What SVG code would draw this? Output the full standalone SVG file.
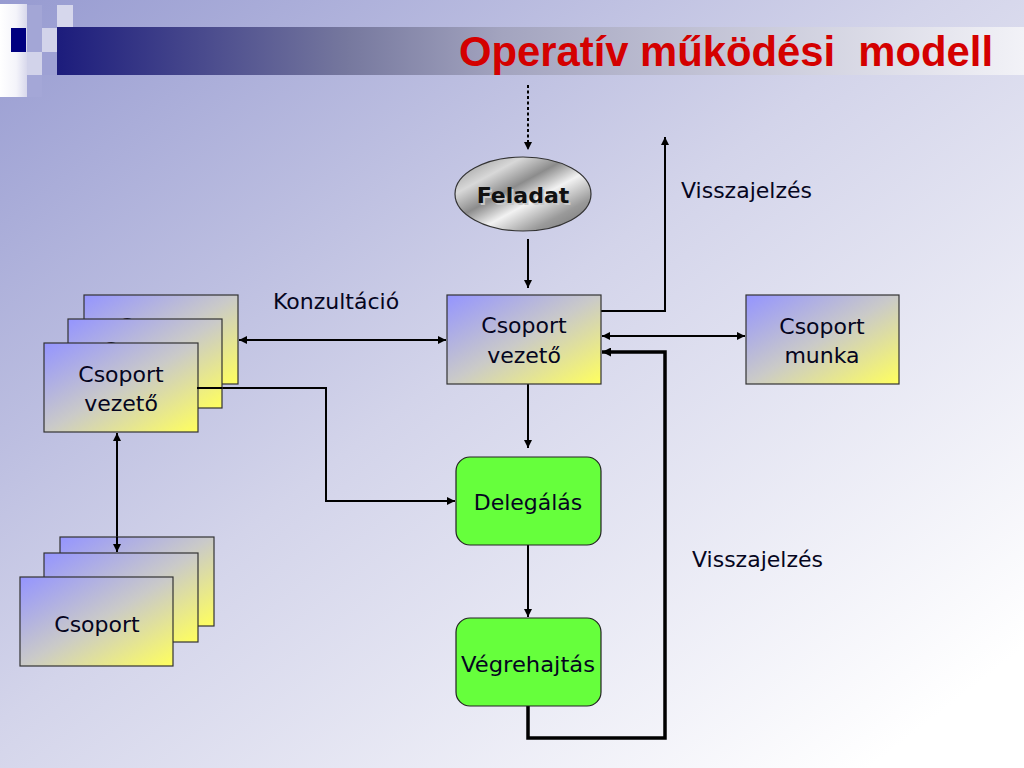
<svg xmlns="http://www.w3.org/2000/svg" width="1024" height="768" viewBox="0 0 1024 768">
<defs>
<linearGradient id="bg" gradientUnits="userSpaceOnUse" x1="0" y1="0" x2="700" y2="900">
<stop offset="0" stop-color="#979bd1"/>
<stop offset="0.5" stop-color="#d3d4ea"/>
<stop offset="1" stop-color="#ffffff"/>
</linearGradient>
<linearGradient id="bar" x1="0" y1="0" x2="1" y2="0">
<stop offset="0" stop-color="#1c1c7c"/>
<stop offset="0.30" stop-color="#76789e"/>
<stop offset="0.46" stop-color="#a3a4bf"/>
<stop offset="1" stop-color="#f2f2f7"/>
</linearGradient>
<linearGradient id="wbar" x1="0" y1="0" x2="1" y2="0">
<stop offset="0" stop-color="#ffffff"/>
<stop offset="0.6" stop-color="#f4f4fa"/>
<stop offset="1" stop-color="#d8d8ec"/>
</linearGradient>
<linearGradient id="box" x1="0" y1="0" x2="1" y2="1">
<stop offset="0" stop-color="#9494ff"/>
<stop offset="0.5" stop-color="#cacac8"/>
<stop offset="1" stop-color="#ffff5e"/>
</linearGradient>
<linearGradient id="silver" x1="0" y1="0" x2="1" y2="1">
<stop offset="0" stop-color="#8a8a8a"/>
<stop offset="0.25" stop-color="#d8d8d8"/>
<stop offset="0.42" stop-color="#8c8c8c"/>
<stop offset="0.58" stop-color="#f2f2f2"/>
<stop offset="0.78" stop-color="#9a9a9a"/>
<stop offset="1" stop-color="#6e6e6e"/>
</linearGradient>
<marker id="ah" viewBox="0 0 10 10" refX="10" refY="5" markerWidth="10" markerHeight="8" markerUnits="userSpaceOnUse" orient="auto-start-reverse">
<path d="M0,0 L10,5 L0,10 Z" fill="#000"/>
</marker>
<marker id="ahb" viewBox="0 0 10 10" refX="10" refY="5" markerWidth="11" markerHeight="9" markerUnits="userSpaceOnUse" orient="auto-start-reverse">
<path d="M0,0 L10,5 L0,10 Z" fill="#000"/>
</marker>
<style>
.bx{fill:url(#box);stroke:#333;stroke-width:1.2}
.gr{fill:#66ff3c;stroke:#222;stroke-width:1.2}
.t{font-family:"DejaVu Sans","Liberation Sans",sans-serif;font-size:22px;fill:#050520;text-anchor:middle}
.lbl{font-family:"DejaVu Sans","Liberation Sans",sans-serif;font-size:22px;fill:#050520}
.c{fill:none;stroke:#000;stroke-width:2}
.ck{fill:none;stroke:#000;stroke-width:3.5}
</style>
</defs>

<rect x="0" y="0" width="1024" height="768" fill="url(#bg)"/>
<g id="decor">
<rect x="57" y="27" width="967" height="48" fill="url(#bar)"/>
<rect x="0" y="4" width="27" height="93" fill="url(#wbar)"/>
<rect x="27" y="5" width="15" height="47" fill="#a3a6d6"/>
<rect x="11" y="28" width="15" height="24" fill="#000080"/>
<rect x="42" y="28" width="15" height="24" fill="#d2d3ea"/>
<rect x="57" y="5" width="16" height="22" fill="#d6d7ec"/>
<rect x="27" y="52" width="15" height="23" fill="#d2d3ea"/>
<rect x="42" y="52" width="15" height="23" fill="#9ea1d4"/>
<rect x="27" y="75" width="15" height="22" fill="#a4a7d7"/>
</g>
<text id="title" x="459" y="66" font-family="'Liberation Sans',Arial,sans-serif" font-weight="bold" font-size="42" fill="#d40000" textLength="534" lengthAdjust="spacingAndGlyphs" xml:space="preserve">Operatív működési  modell</text>

<g id="connectors">
<line class="c" x1="528" y1="85" x2="528" y2="150" stroke-width="3" stroke-dasharray="3 2.5" marker-end="url(#ah)"/>
<line class="c" x1="528" y1="239" x2="528" y2="288" marker-end="url(#ah)"/>
<line class="c" x1="528" y1="384" x2="528" y2="448" marker-end="url(#ah)"/>
<line class="c" x1="528" y1="545" x2="528" y2="617" marker-end="url(#ah)"/>
<path class="ck" d="M528,706 L528,738 L665,738 L665,352 L602,352" marker-end="url(#ahb)"/>
<path class="c" d="M601,311 L665,311 L665,137" marker-end="url(#ah)"/>
<line class="c" x1="602" y1="336" x2="745" y2="336" marker-start="url(#ah)" marker-end="url(#ah)"/>
<line class="c" x1="239" y1="340" x2="446" y2="340" marker-start="url(#ah)" marker-end="url(#ah)"/>
<path class="c" d="M197,388 L326,388 L326,501 L455,501" marker-end="url(#ah)"/>
<line class="c" x1="117" y1="433" x2="117" y2="552" marker-start="url(#ah)" marker-end="url(#ah)"/>
</g>

<g id="feladat">
<ellipse cx="523" cy="194" rx="68" ry="37" fill="url(#silver)" stroke="#333" stroke-width="1.2"/>
<text x="525" y="205" font-family="'DejaVu Sans',Verdana,sans-serif" font-weight="bold" font-size="22" fill="#c8c8c8" text-anchor="middle">Feladat</text>
<text x="523" y="203" font-family="'DejaVu Sans',Verdana,sans-serif" font-weight="bold" font-size="22" fill="#111" text-anchor="middle">Feladat</text>
</g>

<g id="csoport-vezeto">
<rect class="bx" x="447" y="295" width="154" height="89"/>
<text class="t" x="524" y="333">Csoport</text>
<text class="t" x="524" y="363">vezető</text>
</g>

<g id="csoport-munka">
<rect class="bx" x="746" y="295" width="153" height="89"/>
<text class="t" x="822" y="334">Csoport</text>
<text class="t" x="822" y="363">munka</text>
</g>

<g id="delegalas">
<rect class="gr" x="456" y="457" width="145" height="88" rx="14"/>
<text class="t" x="528" y="510">Delegálás</text>
</g>

<g id="vegrehajtas">
<rect class="gr" x="456" y="618" width="145" height="88" rx="14"/>
<text class="t" x="528" y="672" textLength="134" lengthAdjust="spacingAndGlyphs">Végrehajtás</text>
</g>

<g id="vezeto-stack">
<rect class="bx" x="84" y="295" width="154" height="89"/>
<text class="t" x="161" y="334">Csoport</text>
<rect class="bx" x="68" y="319" width="154" height="89"/>
<text class="t" x="145" y="358">Csoport</text>
<rect class="bx" x="44" y="343" width="154" height="89"/>
<text class="t" x="121" y="382">Csoport</text>
<text class="t" x="121" y="411">vezető</text>
</g>
<line class="c" x1="197" y1="388" x2="222" y2="388"/>

<g id="csoport-stack">
<rect class="bx" x="60" y="537" width="154" height="89"/>
<rect class="bx" x="44" y="553" width="154" height="89"/>
<rect class="bx" x="20" y="577" width="153" height="89"/>
<text class="t" x="97" y="632">Csoport</text>
</g>
<line class="c" x1="117" y1="537" x2="117" y2="552" marker-end="url(#ah)"/>

<g id="labels">
<text class="lbl" x="273" y="309">Konzultáció</text>
<text class="lbl" x="681" y="198">Visszajelzés</text>
<text class="lbl" x="692" y="567">Visszajelzés</text>
</g>
</svg>
